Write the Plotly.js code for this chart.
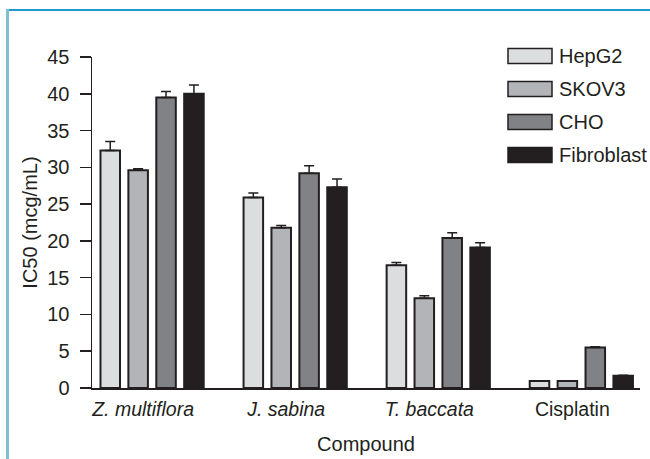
<!DOCTYPE html>
<html>
<head>
<meta charset="utf-8">
<script src="https://cdn.plot.ly/plotly-3.0.1.min.js"></script>
<style>
html,body{margin:0;padding:0;background:#fff;}
#wrap{position:relative;width:650px;height:459px;}
#chart{position:absolute;left:0;top:0;width:650px;height:459px;}
#frameTop{position:absolute;left:7px;top:9px;width:643px;height:0;border-top:2px solid #1f9bd1;pointer-events:none;}
#frameLeft{position:absolute;left:6px;top:9px;width:0;height:450px;border-left:3px solid #7fbfd2;pointer-events:none;}
</style>
</head>
<body>
<div id="wrap">
<div id="chart"></div>
<div id="frameTop"></div>
<div id="frameLeft"></div>
</div>
<script>
const categories = ['Z. multiflora', 'J. sabina', 'T. baccata', 'Cisplatin'];
const tickLabels = ['<i>Z. multiflora</i>', '<i>J. sabina</i>', '<i>T. baccata</i>', 'Cisplatin'];
const seriesNames = ['HepG2', 'SKOV3', 'CHO', 'Fibroblast'];
const hepg2 = [32.3, 25.9, 16.7, 0.95];
const hepg2Err = [1.2, 0.6, 0.35, 0];
const skov3 = [29.6, 21.8, 12.2, 0.95];
const skov3Err = [0.2, 0.3, 0.35, 0];
const cho = [39.5, 29.2, 20.4, 5.5];
const choErr = [0.8, 1.0, 0.7, 0.1];
const fibroblast = [40.0, 27.3, 19.1, 1.65];
const fibroblastErr = [1.2, 1.1, 0.65, 0.1];
const yTicks = [0, 5, 10, 15, 20, 25, 30, 35, 40, 45];

const fills = ['#dcddde', '#b2b4b7', '#808285', '#231f20'];
const edge = '#231f20';
const values = [hepg2, skov3, cho, fibroblast];
const errs = [hepg2Err, skov3Err, choErr, fibroblastErr];

const M = {l: 92, r: 10, t: 57, b: 71};
const W = 650, H = 459;
const pw = W - M.l - M.r, ph = H - M.t - M.b;
const px2x = p => (p - M.l) / pw;
const py2y = p => (H - M.b - p) / ph;

const traces = seriesNames.map((name, i) => ({
  type: 'bar',
  name: name,
  x: categories,
  y: values[i],
  marker: {color: fills[i], line: {color: edge, width: 2}},
  error_y: {type: 'data', array: errs[i], symmetric: false, arrayminus: [0,0,0,0], color: edge, thickness: 1.5, width: 5},
  showlegend: false,
  hoverinfo: 'x+y'
}));

const font = {family: '"Liberation Sans", Arial, sans-serif', size: 20, color: '#231f20'};

const shapes = [];
const annotations = [];
const legendRows = [56, 89, 122, 155];
seriesNames.forEach((name, i) => {
  const cy = legendRows[i];
  shapes.push({type: 'rect', xref: 'paper', yref: 'paper',
    x0: px2x(508), x1: px2x(552), y0: py2y(cy + 7.5), y1: py2y(cy - 7.5),
    fillcolor: fills[i], line: {color: edge, width: 1.5}});
  annotations.push({xref: 'paper', yref: 'paper', x: px2x(557), y: py2y(cy),
    xanchor: 'left', yanchor: 'middle', text: name, showarrow: false,
    font: font});
});

const layout = {
  width: W, height: H,
  margin: M,
  paper_bgcolor: '#ffffff', plot_bgcolor: '#ffffff',
  font: font,
  barmode: 'group',
  bargap: 0.22,
  bargroupgap: 0.3,
  showlegend: false,
  xaxis: {
    type: 'category',
    range: [-0.42, 3.41],
    tickvals: categories, ticktext: tickLabels,
    showline: true, linecolor: edge, linewidth: 1.5,
    ticks: '', showgrid: false, zeroline: false,
    tickfont: {family: font.family, size: 19.5, color: edge},
    ticklabelshift: -9,
    ticklabelstandoff: 3,
    title: {text: 'Compound', font: font, standoff: 18},
    automargin: false, fixedrange: true
  },
  yaxis: {
    range: [0, 45],
    tickvals: yTicks,
    showline: true, linecolor: edge, linewidth: 1.5,
    ticks: 'outside', ticklen: 11, tickwidth: 1.5, tickcolor: edge,
    showgrid: false, zeroline: false,
    tickfont: font,
    ticklabelstandoff: 6,
    title: {text: 'IC50 (mcg/mL)', font: font, standoff: 4},
    automargin: false, fixedrange: true
  },
  shapes: shapes,
  annotations: annotations
};

Plotly.newPlot('chart', traces, layout, {displayModeBar: false, staticPlot: true});
</script>
</body>
</html>
